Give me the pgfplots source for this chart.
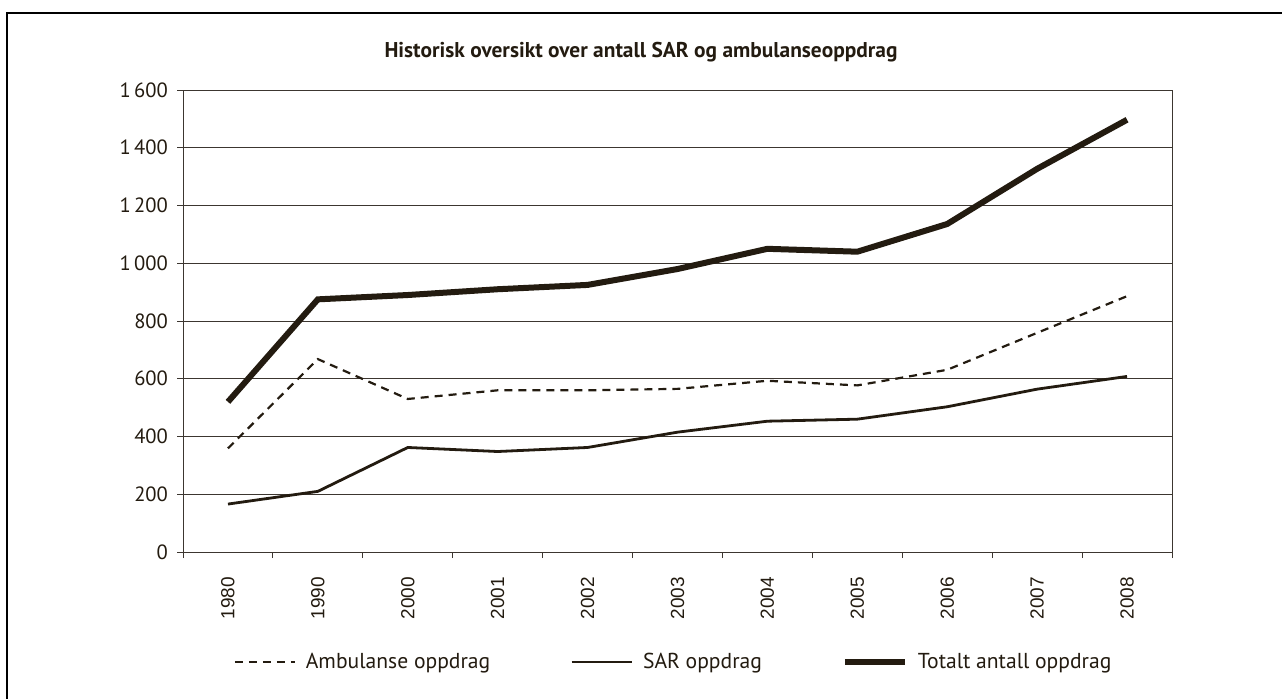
\documentclass[border=0pt]{standalone}
\usepackage{fontspec}
\setmainfont{PT Sans}
\newfontfamily\arial{Liberation Sans}
\usepackage{pgfplots}
\pgfplotsset{compat=1.18}
\definecolor{ink}{RGB}{35,27,16}
\definecolor{axc}{RGB}{60,54,48}
\begin{document}
\begin{tikzpicture}
\path[use as bounding box] (0pt,0pt) rectangle (641pt,349pt);
\draw[black,line width=0.9pt] (3.5pt,-5pt) -- (3.5pt,342.5pt) -- (650pt,342.5pt);
\node[font=\bfseries\fontsize{10.7}{13}\selectfont, text=ink] at (320.5pt,323pt) {Historisk oversikt over antall SAR og ambulanseoppdrag};
\begin{axis}[
  at={(91.5pt,73pt)}, anchor=south west,
  scale only axis, width=494.5pt, height=231pt,
  xmin=-0.5, xmax=10.5, ymin=0, ymax=1600,
  xtick={0,...,10},
  xticklabels={1980,1990,2000,2001,2002,2003,2004,2005,2006,2007,2008},
  major x tick style={draw=none},
  minor xtick={-0.5,0.5,...,10.5},
  ytick={0,200,...,1600},
  yticklabels={0,200,400,600,800,1\,000,1\,200,1\,400,1\,600},
  xtick pos=bottom, ytick pos=left,
  tick align=outside,
  major tick length=3pt, minor tick length=3pt,
  tick style={axc, line width=0.5pt},
  ymajorgrids, grid style={axc, line width=0.5pt},
  axis line style={axc, line width=0.5pt},
  x tick label style={rotate=90, anchor=east, font=\arial\fontsize{9.5}{11}\selectfont, text=ink},
  y tick label style={font=\fontsize{10.3}{12}\selectfont, text=ink},
  /pgf/number format/assume math mode=true,
  xticklabel shift=6pt,
  yticklabel shift=1pt,
  legend columns=3,
  legend style={draw=none, at={(0.497,-0.238)}, anchor=center, font=\fontsize{10.8}{12}\selectfont, text=ink,
    /tikz/every even column/.append style={column sep=38pt},
    /tikz/every odd column/.append style={column sep=3pt}},
  legend image code/.code={\draw[#1] (0pt,0pt) -- (30pt,0pt);},
]
\addplot[ink, line width=1.1pt, dash pattern=on 4pt off 3pt] coordinates {
(0,359) (1,668) (2,530) (3,560) (4,560) (5,565) (6,593) (7,577) (8,631) (9,759) (10,886)};
\addlegendentry{Ambulanse oppdrag}
\addplot[ink, line width=1.4pt] coordinates {
(0,166) (1,210) (2,362) (3,348) (4,362) (5,415) (6,453) (7,460) (8,503) (9,564) (10,608)};
\addlegendentry{SAR oppdrag}
\addplot[ink, line width=3pt] coordinates {
(0,520) (1,875) (2,890) (3,910) (4,925) (5,980) (6,1050) (7,1040) (8,1136) (9,1327) (10,1497)};
\addlegendentry{Totalt antall oppdrag}
\end{axis}
\end{tikzpicture}
\end{document}
